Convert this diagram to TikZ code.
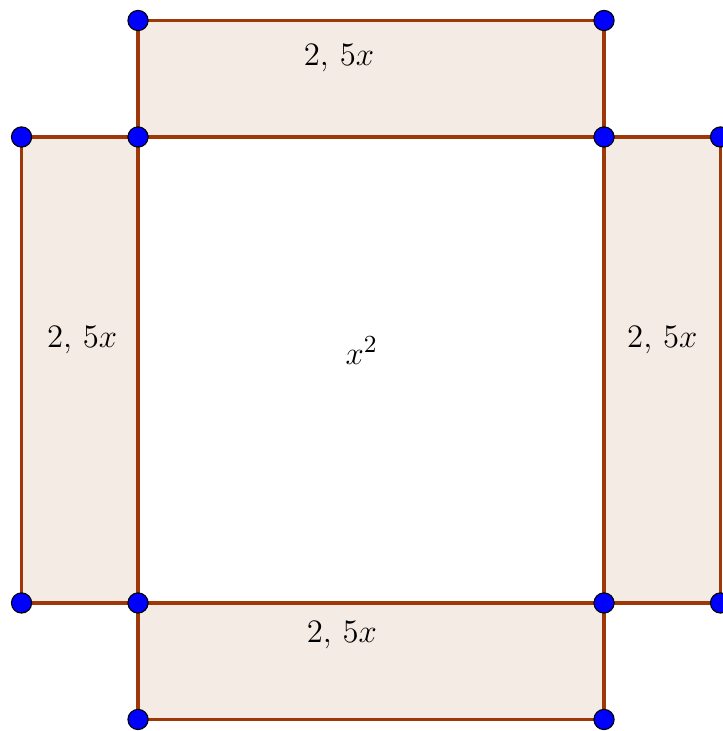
\documentclass[tikz,border=0pt]{standalone}
\definecolor{edgebrown}{RGB}{158,56,8}
\definecolor{stripfill}{RGB}{245,235,229}
\tikzset{
  strip/.style={fill=stripfill, draw=edgebrown, line width=1.4pt},
  dot/.style={fill=blue, draw=black, line width=0.4pt},
}
\begin{document}
\begin{tikzpicture}[x=1.5cm, y=1.5cm, line cap=round, line join=round,
    font=\fontsize{12.5}{15}\selectfont]
  \useasboundingbox (-1.185, -1.099) rectangle (5.021, 5.176);

  % Coordinates
  \coordinate (A) at (0, 0);
  \coordinate (B) at (4, 0);
  \coordinate (C) at (4, 4);
  \coordinate (D) at (0, 4);
  \coordinate (E) at (0, 5);
  \coordinate (F) at (4, 5);
  \coordinate (G) at (-1, 4);
  \coordinate (H) at (-1, 0);
  \coordinate (I) at (5, 4);
  \coordinate (J) at (5, 0);
  \coordinate (K) at (0, -1);
  \coordinate (L) at (4, -1);

  % Strips around the square
  \draw[strip] (D) -- (C) -- (F) -- (E) -- cycle;
  \draw[strip] (H) -- (A) -- (D) -- (G) -- cycle;
  \draw[strip] (B) -- (J) -- (I) -- (C) -- cycle;
  \draw[strip] (K) -- (L) -- (B) -- (A) -- cycle;

  % Points
  \foreach \p in {A, B, C, D, E, F, G, H, I, J, K, L}
    \draw[dot] (\p) circle[radius=3.7pt];

  % Labels
  \node at (1.725, 4.68) {$2,\,5x$};
  \node at (-0.48, 2.26) {$2,\,5x$};
  \node at (4.5, 2.26) {$2,\,5x$};
  \node at (1.75, -0.275) {$2,\,5x$};
  \node at (1.92, 2.17) {$x^2$};
\end{tikzpicture}
\end{document}
